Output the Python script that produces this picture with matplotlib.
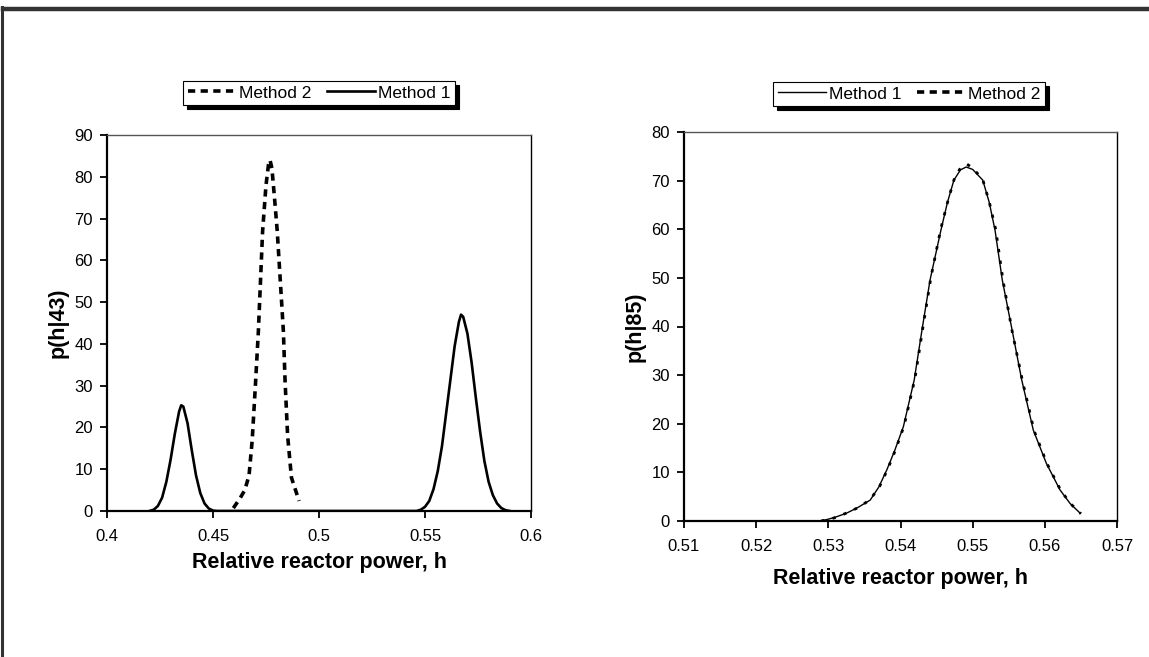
import matplotlib
matplotlib.use("Agg")
import matplotlib.pyplot as plt
from matplotlib.lines import Line2D

plt.rcParams['font.family'] = ['Liberation Sans', 'DejaVu Sans']

# ---- Left chart data: p(h|43) ----
left_m1_x = [0.420, 0.422, 0.424, 0.426, 0.428, 0.430, 0.432, 0.434, 0.435, 0.436,
             0.438, 0.440, 0.442, 0.444, 0.446, 0.448, 0.450, 0.452,
             0.470, 0.500, 0.530, 0.546,
             0.548, 0.550, 0.552, 0.554, 0.556, 0.558, 0.560, 0.562, 0.564, 0.566,
             0.567, 0.568, 0.570, 0.572, 0.574, 0.576, 0.578, 0.580, 0.582, 0.584,
             0.586, 0.588, 0.590]
left_m1_y = [0.0, 0.3, 1.2, 3.2, 7.0, 12.3, 18.5, 23.8, 25.3, 25.0,
             21.0, 14.5, 8.5, 4.3, 1.8, 0.6, 0.1, 0.0,
             0.0, 0.0, 0.0, 0.0,
             0.3, 1.0, 2.4, 5.2, 9.5, 15.5, 23.5, 31.5, 39.5, 45.3,
             47.0, 46.5, 42.5, 35.5, 27.0, 19.0, 12.0, 7.0, 3.8, 1.8,
             0.7, 0.2, 0.0]

left_m2_x = [0.4596, 0.4627, 0.4650, 0.4670, 0.4685, 0.4701, 0.4714, 0.4734, 0.4750,
             0.4762, 0.4769, 0.4778, 0.4790, 0.4803, 0.4820, 0.4832, 0.4840, 0.4852,
             0.4870, 0.4906]
left_m2_y = [0.7, 3.0, 5.0, 8.5, 17.0, 31.0, 43.0, 67.0, 78.0,
             83.0, 84.0, 82.0, 75.0, 67.0, 53.0, 43.0, 31.0, 18.0,
             8.0, 2.4]

# ---- Right chart data: p(h|85) ----
right_m1_x = [0.5288, 0.5298, 0.5310, 0.5325, 0.5340, 0.5358, 0.5370, 0.5381, 0.5392,
              0.5404, 0.5419, 0.5430, 0.5441, 0.5456, 0.5465, 0.5474, 0.5483, 0.5491,
              0.5500, 0.5514, 0.5523, 0.5531, 0.5541, 0.5555, 0.5568, 0.5584, 0.5602,
              0.5621, 0.5635, 0.5649]
right_m1_y = [0.0, 0.3, 0.8, 1.6, 2.7, 4.3, 7.0, 10.5, 14.5,
              19.4, 29.0, 39.5, 49.6, 59.8, 65.5, 70.1, 72.2, 72.8,
              72.3, 70.1, 65.5, 59.8, 49.6, 39.0, 29.0, 18.7, 11.9,
              6.4, 3.6, 1.6]

right_m2_x = [0.5290, 0.5300, 0.5312, 0.5326, 0.5342, 0.5358, 0.5371, 0.5382, 0.5393,
              0.5405, 0.5420, 0.5431, 0.5442, 0.5456, 0.5466, 0.5475, 0.5484, 0.5492,
              0.5500, 0.5514, 0.5523, 0.5532, 0.5542, 0.5555, 0.5569, 0.5585, 0.5603,
              0.5622, 0.5636, 0.5650]
right_m2_y = [0.0, 0.3, 0.8, 1.7, 2.8, 4.4, 7.1, 10.6, 14.6,
              19.6, 29.3, 39.8, 50.0, 60.2, 66.0, 70.6, 72.8, 73.4,
              72.6, 70.2, 65.6, 59.9, 49.5, 38.8, 28.8, 18.6, 11.8,
              6.3, 3.5, 1.5]

left_xticks = [0.4, 0.45, 0.5, 0.55, 0.6]
left_xlabels = ['0.4', '0.45', '0.5', '0.55', '0.6']
left_yticks = [0, 10, 20, 30, 40, 50, 60, 70, 80, 90]
right_xticks = [0.51, 0.52, 0.53, 0.54, 0.55, 0.56, 0.57]
right_xlabels = ['0.51', '0.52', '0.53', '0.54', '0.55', '0.56', '0.57']
right_yticks = [0, 10, 20, 30, 40, 50, 60, 70, 80]

W, H = 1149, 657
fig = plt.figure(figsize=(W / 100, H / 100), dpi=100)
fig.patch.set_facecolor('white')

# figure border (top and left)
fig.add_artist(Line2D([2.5 / W, 1.0], [1 - 8.5 / H, 1 - 8.5 / H], color='#333333', lw=3.2,
                      transform=fig.transFigure))
fig.add_artist(Line2D([1.5 / W, 1.5 / W], [0.0, 1 - 7 / H], color='#333333', lw=2.2,
                      transform=fig.transFigure))

axL = fig.add_axes([107 / W, 1 - 511 / H, (531 - 107) / W, (511 - 135) / H])
axR = fig.add_axes([684 / W, 1 - 521 / H, (1117 - 684) / W, (521 - 132) / H])

TICK_FS = 12
LABEL_FS = 15.5
LEG_FS = 12.5
DOTTED = (0, (2.0, 1.5))


def style(ax):
    ax.spines['left'].set_linewidth(1.6)
    ax.spines['bottom'].set_linewidth(1.6)
    ax.spines['right'].set_linewidth(1.0)
    ax.spines['top'].set_linewidth(1.0)
    ax.spines['top'].set_color('#555555')
    ax.tick_params(direction='out', length=5, width=1.3, labelsize=TICK_FS, colors='black')
    ax.tick_params(axis='x', pad=8)
    ax.tick_params(axis='y', pad=5)


def legend(ax, handles, labels, cx, cy):
    leg = ax.legend(handles, labels, loc='center', bbox_to_anchor=(cx / W, 1 - cy / H),
                    bbox_transform=fig.transFigure,
                    ncol=2, fontsize=LEG_FS, frameon=True, fancybox=False,
                    shadow={'color': 'black', 'alpha': 1.0, 'ox': 3, 'oy': -3},
                    handlelength=2.8, handletextpad=0.15, columnspacing=0.9, borderpad=0.25,
                    borderaxespad=0, edgecolor='black')
    leg.get_frame().set_linewidth(0.8)
    return leg


# Left chart
axL.plot(left_m2_x, left_m2_y, color='black', lw=2.6, linestyle=DOTTED, label='Method 2')
axL.plot(left_m1_x, left_m1_y, color='black', lw=1.9, linestyle='-', label='Method 1')
axL.set_xlim(0.4, 0.6)
axL.set_ylim(0, 90)
axL.set_xticks(left_xticks)
axL.set_xticklabels(left_xlabels)
axL.set_yticks(left_yticks)
style(axL)
axL.set_xlabel('Relative reactor power, h', fontsize=LABEL_FS, fontweight='bold', labelpad=6)
axL.set_ylabel('p(h|43)', fontsize=LABEL_FS, fontweight='bold', labelpad=4)
hL, lL = axL.get_legend_handles_labels()
legend(axL, hL, lL, 319, 93)

# Right chart
axR.plot(right_m1_x, right_m1_y, color='black', lw=1.0, linestyle='-', label='Method 1')
axR.plot(right_m2_x, right_m2_y, color='black', lw=2.0, linestyle=(0, (1.2, 3.0)), label='Method 2')
axR.set_xlim(0.51, 0.57)
axR.set_ylim(0, 80)
axR.set_xticks(right_xticks)
axR.set_xticklabels(right_xlabels)
axR.set_yticks(right_yticks)
style(axR)
axR.set_xlabel('Relative reactor power, h', fontsize=LABEL_FS, fontweight='bold', labelpad=10)
axR.set_ylabel('p(h|85)', fontsize=LABEL_FS, fontweight='bold', labelpad=4)
handlesR, labelsR = axR.get_legend_handles_labels()
legR_handles = [Line2D([], [], color='black', lw=1.0),
                Line2D([], [], color='black', lw=2.6, linestyle=DOTTED)]
legend(axR, legR_handles, labelsR, 909, 94)

fig.savefig('out.png', dpi=100, facecolor='white')
